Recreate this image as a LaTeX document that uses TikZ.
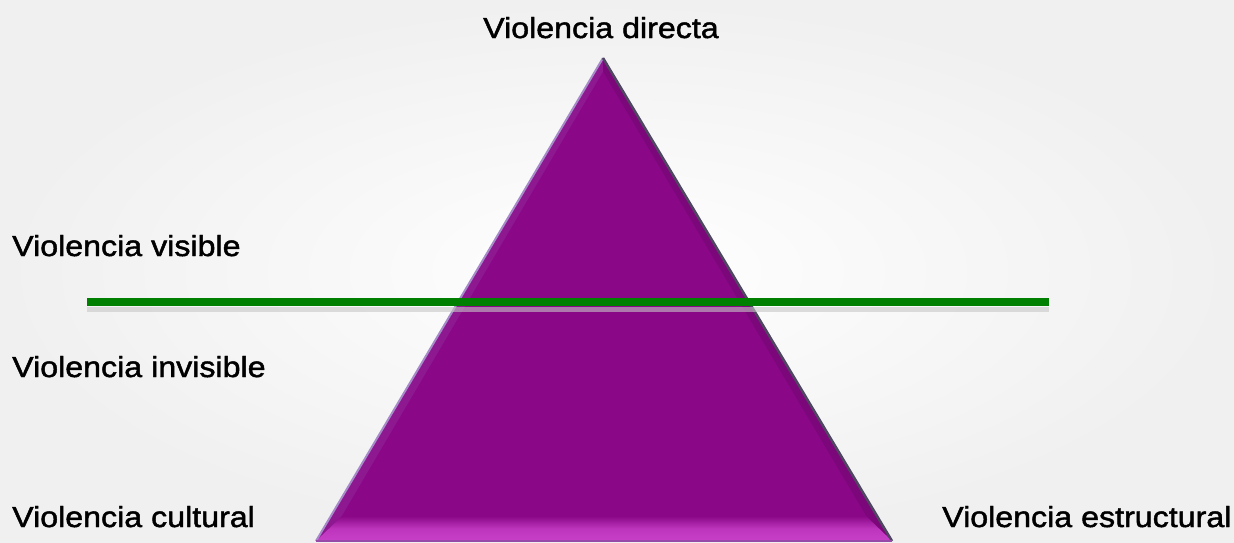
\documentclass[tikz,border=0pt]{standalone}
\usepackage{fontspec}
\setmainfont{Liberation Sans}[FakeStretch=1.11, FakeBold=1.6]
\usetikzlibrary{shadings}
\definecolor{tripurple}{HTML}{8A0888}
\definecolor{trilight}{HTML}{C840C8}
\definecolor{edgedark}{HTML}{4E4560}
\definecolor{edgelight}{HTML}{A58CC8}
\definecolor{linegreen}{HTML}{008000}
\definecolor{bgedge}{HTML}{F0F0F0}
\tikzset{
  lbl/.style={inner sep=0pt, font=\fontsize{29}{34}\selectfont, text=black},
}
\begin{document}
\begin{tikzpicture}[x=1pt,y=-1pt]
\useasboundingbox (0,0) rectangle (1234,542);
\shade[inner color=white, outer color=bgedge] (0,0) rectangle (1234,542);
% triangle corners
\coordinate (apex) at (603,58);
\coordinate (bl) at (316,541);
\coordinate (br) at (892,541);
\coordinate (ibl) at (342,516);
\coordinate (ibr) at (866,516);
\coordinate (iapex) at (603,72);
% triangle body
\fill[tripurple] (apex) -- (bl) -- (br) -- cycle;
% bevels
\fill[tripurple!88!edgelight] (apex) -- (bl) -- (ibl) -- (iapex) -- cycle;
\fill[tripurple!90!black] (apex) -- (br) -- (ibr) -- (iapex) -- cycle;
\fill[tripurple] (iapex) -- (ibl) -- (ibr) -- cycle;
% bottom bevel
\shade[top color=tripurple, bottom color=trilight, middle color=trilight!80!tripurple] (ibl) -- (ibr) -- (br) -- (bl) -- cycle;
% outer edges
\draw[edgelight, line width=2pt] (bl) -- (apex);
\draw[edgedark, line width=2.5pt] (apex) -- (br);
\draw[edgelight!50!tripurple, line width=2pt] (bl) -- (br);
% green line with shadow
\coordinate (gl) at (87,302);
\coordinate (gr) at (1049,302);
\draw[black!22, line width=5pt, opacity=0.6] ([yshift=-7.5pt]gl) -- ([yshift=-7.5pt]gr);
\draw[linegreen, line width=8pt] (gl) -- (gr);
% labels
\node[lbl, anchor=base] (directa) at (601,38) {Violencia directa};
\node[lbl, anchor=base west] (visible) at (12,256) {Violencia visible};
\node[lbl, anchor=base west] (invisible) at (12,377) {Violencia invisible};
\node[lbl, anchor=base west] (cultural) at (12,527) {Violencia cultural};
\node[lbl, anchor=base west] (estructural) at (942,527) {Violencia estructural};
\end{tikzpicture}
\end{document}
